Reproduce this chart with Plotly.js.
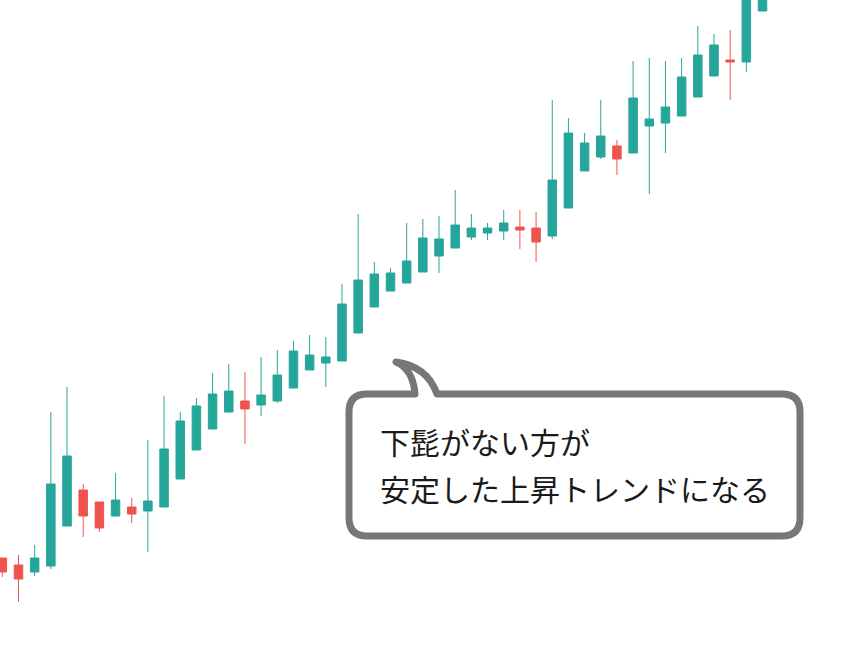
<!DOCTYPE html>
<html>
<head>
<meta charset="utf-8">
<script src="https://cdn.plot.ly/plotly-3.0.1.min.js"></script>
<style>
html, body { margin: 0; padding: 0; background: #ffffff; }
#chart { width: 861px; height: 649px; }
.shapelayer path { stroke-linejoin: round; stroke-linecap: round; }
</style>
</head>
<body>
<div id="chart"></div>
<script>
// Candle index (time order)
const candleIndex = [0,1,2,3,4,5,6,7,8,9,10,11,12,13,14,15,16,17,18,19,20,21,22,23,24,25,26,27,28,29,30,31,32,33,34,35,36,37,38,39,40,41,42,43,44,45,46,47];
// OHLC values (arbitrary price units)
const openValues  = [92,85,78,84,124,160,148,134,143,139,143,171,200,221,238,249,245,249,262,280,287,289,317,343,359,367,378,394,402,413,417,419,423,422,414,442,479,493,504,497,524,527,534,553,574,590,588,639];
const highValues  = [92,95,105,238,263,166,148,177,152,210,254,238,252,277,286,278,293,300,309,315,313,366,436,388,382,427,431,434,460,436,427,440,440,438,550,532,517,550,510,589,592,589,592,624,616,620,680,705];
const lowValues   = [73,48,74,81,124,113,118,134,127,98,143,171,200,221,238,206,234,247,262,280,263,289,317,343,359,367,378,377,402,410,410,410,401,388,411,442,479,491,475,497,456,497,534,553,574,550,578,639];
const closeValues = [78,71,92,166,194,134,122,150,136,149,201,229,244,256,259,241,255,275,299,295,293,346,370,376,377,389,412,411,425,422,422,427,420,408,470,517,507,514,491,552,531,543,573,595,605,588,670,695];

const calloutLines = ["下髭がない方が", "安定した上昇トレンドになる"];

const W = 861, H = 649;
const UP = "#26a69a", DOWN = "#ef5350";

function px(x) { return (x / W).toFixed(5); }
function py(y) { return (1 - y / H).toFixed(5); }
function P(x, y) { return px(x) + "," + py(y); }

// speech bubble outline (pixel geometry converted to paper units)
const L = 349, R = 800, T = 394, B = 536, r = 18;
const bubblePath =
  "M" + P(415, T) +
  " L" + P(L + r, T) +
  " Q" + P(L, T) + " " + P(L, T + r) +
  " L" + P(L, B - r) +
  " Q" + P(L, B) + " " + P(L + r, B) +
  " L" + P(R - r, B) +
  " Q" + P(R, B) + " " + P(R, B - r) +
  " L" + P(R, T + r) +
  " Q" + P(R, T) + " " + P(R - r, T) +
  " L" + P(437, T) +
  " Q" + P(427, 366) + " " + P(396, 362) +
  " Q" + P(413, 369) + " " + P(415, T) + " Z";

const trace = {
  type: "candlestick",
  x: candleIndex,
  open: openValues,
  high: highValues,
  low: lowValues,
  close: closeValues,
  increasing: { line: { color: UP, width: 1 }, fillcolor: UP },
  decreasing: { line: { color: DOWN, width: 1 }, fillcolor: DOWN },
  whiskerwidth: 0,
  hoverinfo: "skip"
};

const spacing = 16.174;
const x0 = -2.33 / spacing;
const layout = {
  width: W, height: H,
  margin: { l: 0, r: 0, t: 0, b: 0, pad: 0 },
  paper_bgcolor: "#ffffff",
  plot_bgcolor: "#ffffff",
  showlegend: false,
  boxgap: 0.25,
  xaxis: { type: "linear", range: [x0, x0 + W / spacing], visible: false, rangeslider: { visible: false }, fixedrange: true },
  yaxis: { range: [1, 650], visible: false, fixedrange: true },
  shapes: [{
    type: "path", xref: "paper", yref: "paper",
    path: bubblePath,
    fillcolor: "#ffffff",
    line: { color: "#777777", width: 7 },
    layer: "above"
  }],
  annotations: [
    { xref: "paper", yref: "paper", x: 378 / W, y: 1 - 441 / H, xanchor: "left", yanchor: "middle",
      text: calloutLines[0], showarrow: false,
      font: { family: "Noto Sans CJK JP", size: 30, color: "#1a1a1a" } },
    { xref: "paper", yref: "paper", x: 378 / W, y: 1 - 488 / H, xanchor: "left", yanchor: "middle",
      text: calloutLines[1], showarrow: false,
      font: { family: "Noto Sans CJK JP", size: 30, color: "#1a1a1a" } }
  ]
};

Plotly.newPlot("chart", [trace], layout, { displayModeBar: false, staticPlot: true });
</script>
</body>
</html>
